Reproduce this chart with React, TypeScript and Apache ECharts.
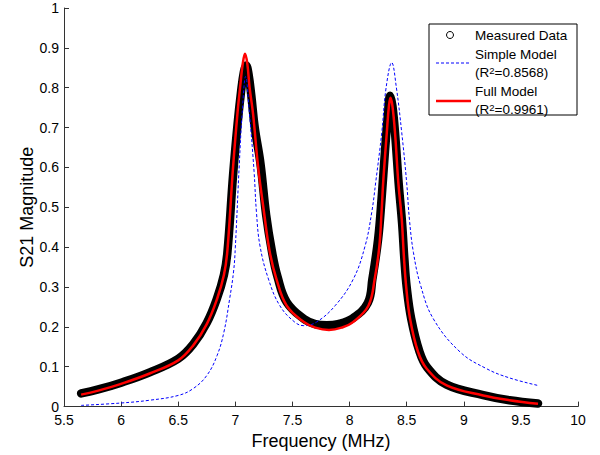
import React, { useEffect, useRef } from "react";
import * as echarts from "echarts";

// Measured data (black circles)
const freqMeasured = [5.65, 5.8, 6.0, 6.25, 6.5, 6.63, 6.75, 6.84, 6.9, 6.93, 6.98, 7.02, 7.05, 7.075, 7.095, 7.115, 7.14, 7.17, 7.22, 7.27, 7.32, 7.37, 7.45, 7.6, 7.7, 7.8, 7.9, 8.03, 8.16, 8.2, 8.25, 8.28, 8.31, 8.335, 8.355, 8.375, 8.4, 8.43, 8.46, 8.48, 8.5, 8.54, 8.61, 8.68, 8.85, 9.17, 9.4, 9.65];
const s21Measured = [0.033, 0.043, 0.06, 0.086, 0.12, 0.156, 0.21, 0.272, 0.33, 0.385, 0.58, 0.71, 0.79, 0.84, 0.856, 0.835, 0.78, 0.7, 0.61, 0.48, 0.39, 0.325, 0.262, 0.22, 0.207, 0.204, 0.207, 0.222, 0.26, 0.32, 0.42, 0.52, 0.64, 0.73, 0.78, 0.755, 0.68, 0.56, 0.46, 0.37, 0.3, 0.22, 0.14, 0.098, 0.055, 0.029, 0.016, 0.008];

// Simple model (blue dashed)
const freqSimple = [5.65, 6.0, 6.25, 6.5, 6.63, 6.75, 6.84, 6.9, 6.95, 6.985, 7.0, 7.035, 7.06, 7.09, 7.123, 7.164, 7.185, 7.216, 7.29, 7.39, 7.52, 7.6, 7.71, 7.873, 8.033, 8.136, 8.194, 8.23, 8.282, 8.32, 8.369, 8.41, 8.457, 8.5, 8.524, 8.559, 8.623, 8.734, 8.968, 9.2, 9.4, 9.65];
const s21Simple = [0.003, 0.009, 0.016, 0.028, 0.045, 0.078, 0.128, 0.187, 0.27, 0.34, 0.4, 0.61, 0.737, 0.828, 0.737, 0.59, 0.487, 0.403, 0.32, 0.253, 0.212, 0.203, 0.212, 0.253, 0.32, 0.403, 0.487, 0.565, 0.687, 0.8, 0.863, 0.8, 0.687, 0.562, 0.47, 0.387, 0.303, 0.22, 0.137, 0.095, 0.072, 0.053];

// Full model (red)
const freqFull = [5.65, 5.8, 6.0, 6.25, 6.5, 6.63, 6.75, 6.84, 6.9, 6.93, 6.98, 7.02, 7.045, 7.065, 7.085, 7.105, 7.125, 7.155, 7.2, 7.25, 7.3, 7.36, 7.45, 7.6, 7.7, 7.82, 7.93, 8.03, 8.165, 8.22, 8.26, 8.28, 8.296, 8.326, 8.345, 8.358, 8.375, 8.398, 8.427, 8.457, 8.475, 8.495, 8.53, 8.6, 8.676, 8.85, 9.17, 9.4, 9.65];
const s21Full = [0.03, 0.04, 0.057, 0.083, 0.116, 0.153, 0.207, 0.27, 0.33, 0.39, 0.6, 0.74, 0.81, 0.86, 0.885, 0.86, 0.8, 0.735, 0.6, 0.49, 0.39, 0.32, 0.253, 0.212, 0.198, 0.192, 0.198, 0.212, 0.253, 0.32, 0.4, 0.487, 0.57, 0.687, 0.755, 0.775, 0.755, 0.687, 0.562, 0.47, 0.38, 0.303, 0.22, 0.137, 0.095, 0.053, 0.028, 0.016, 0.007];

const legendLabels = ["Measured Data", "Simple Model", "(R", "2", "=0.8568)", "Full Model", "(R", "2", "=0.9961)"];

const FONT = "'Liberation Sans', Arial, Helvetica, sans-serif";

function pairs(xs: number[], ys: number[]) {
  return xs.map((x, i) => [x, ys[i]]);
}

export default function App() {
  const ref = useRef<HTMLDivElement>(null);
  useEffect(() => {
    if (!ref.current) return;
    const chart = echarts.init(ref.current, null, { renderer: "svg" });
    const axisColor = "#333";
    const LS = 13.5;
    const txt = (text: string, x: number, y: number, size = LS, va = "middle") => ({
      type: "text",
      x,
      y,
      style: { text, fontSize: size, fontFamily: FONT, fill: "#000", verticalAlign: va, align: "left" },
      z: 101,
    });
    chart.setOption({
      animation: false,
      backgroundColor: "#fff",
      grid: { left: 64, right: 22, top: 8, bottom: 47, containLabel: false },
      xAxis: {
        type: "value",
        min: 5.5,
        max: 10,
        interval: 0.5,
        name: "Frequency (MHz)",
        nameLocation: "middle",
        nameGap: 20,
        nameTextStyle: { fontSize: 18, fontFamily: FONT, color: "#000", verticalAlign: "top" },
        axisLine: { lineStyle: { color: axisColor, width: 1 } },
        axisTick: { inside: true, length: 5, lineStyle: { color: axisColor } },
        axisLabel: { fontSize: 14, fontFamily: FONT, color: "#000", margin: 7, lineHeight: 13 },
        splitLine: { show: false },
      },
      yAxis: {
        type: "value",
        min: 0,
        max: 1,
        interval: 0.1,
        name: "S21 Magnitude",
        nameLocation: "middle",
        nameGap: 28,
        nameMoveOverlap: false,
        nameTextStyle: { fontSize: 18, fontFamily: FONT, color: "#000" },
        axisLine: { show: true, lineStyle: { color: axisColor, width: 1 } },
        axisTick: { show: true, inside: true, length: 5, lineStyle: { color: axisColor } },
        axisLabel: { fontSize: 14, fontFamily: FONT, color: "#000", margin: 5, lineHeight: 10 },
        splitLine: { show: false },
      },
      series: [
        {
          name: "Measured Data",
          type: "line",
          data: pairs(freqMeasured, s21Measured),
          smooth: 0.4,
          symbol: "none",
          lineStyle: { color: "#000", width: 8.5, cap: "round", join: "round" },
          z: 2,
        },
        {
          name: "Simple Model",
          type: "line",
          data: pairs(freqSimple, s21Simple),
          smooth: 0.4,
          symbol: "none",
          lineStyle: { color: "#0000ff", width: 1, type: [3, 2] },
          z: 3,
        },
        {
          name: "Full Model",
          type: "line",
          data: pairs(freqFull, s21Full),
          smooth: 0.4,
          symbol: "none",
          lineStyle: { color: "#ff0000", width: 2.5 },
          z: 4,
        },
      ],
      graphic: [
        {
          type: "rect",
          shape: { x: 429, y: 24, width: 148, height: 91 },
          style: { fill: "#fff", stroke: "#000", lineWidth: 1 },
          z: 100,
        },
        {
          type: "circle",
          shape: { cx: 450, cy: 35, r: 3.5 },
          style: { fill: "none", stroke: "#000", lineWidth: 1 },
          z: 101,
        },
        {
          type: "line",
          shape: { x1: 436, y1: 63, x2: 471, y2: 63 },
          style: { stroke: "#0000ff", lineWidth: 1, lineDash: [3, 2] },
          z: 101,
        },
        {
          type: "line",
          shape: { x1: 436, y1: 101, x2: 471, y2: 101 },
          style: { stroke: "#ff0000", lineWidth: 2.5 },
          z: 101,
        },
        txt(legendLabels[0], 475, 35.5),
        txt(legendLabels[1], 475, 54),
        txt(legendLabels[2], 475, 72),
        txt(legendLabels[3], 489.3, 65, 9.5, "top"),
        txt(legendLabels[4], 494.5, 72),
        txt(legendLabels[5], 475, 91.5),
        txt(legendLabels[6], 475, 109.5),
        txt(legendLabels[7], 489.3, 102.5, 9.5, "top"),
        txt(legendLabels[8], 494.5, 109.5),
      ],
    });
    return () => chart.dispose();
  }, []);
  return (
    <div
      ref={ref}
      style={{ position: "fixed", left: 0, top: 0, width: 600, height: 455, background: "#fff" }}
    />
  );
}
